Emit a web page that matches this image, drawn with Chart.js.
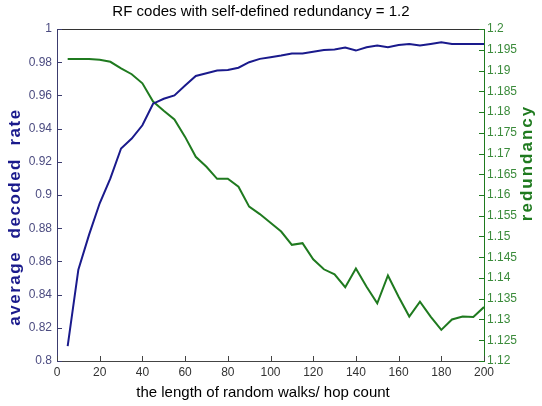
<!DOCTYPE html>
<html>
<head>
<meta charset="utf-8">
<script src="https://cdn.jsdelivr.net/npm/chart.js@4/dist/chart.umd.min.js"></script>
<style>
  html, body { margin: 0; padding: 0; background: #fff; }
  #wrap { width: 542px; height: 406px; }
</style>
</head>
<body>
<div id="wrap"><canvas id="rfChart" width="542" height="406"></canvas></div>
<script>
// hop count (x), every 5 steps
const walkLengths = [5, 10, 15, 20, 25, 30, 35, 40, 45, 50, 55, 60, 65, 70, 75, 80, 85, 90, 95, 100,
    105, 110, 115, 120, 125, 130, 135, 140, 145, 150, 155, 160, 165, 170, 175, 180, 185, 190, 195, 200];

// left axis - average decoded rate
const decodedRate = [0.809, 0.855, 0.876, 0.895, 0.910, 0.928, 0.934, 0.942, 0.955, 0.958,
    0.960, 0.966, 0.9717, 0.9733, 0.975, 0.9753, 0.9767, 0.980, 0.982, 0.983,
    0.984, 0.9853, 0.9853, 0.9863, 0.9873, 0.9877, 0.9888, 0.987, 0.989, 0.990,
    0.989, 0.9904, 0.991, 0.990, 0.991, 0.992, 0.991, 0.991, 0.991, 0.991];

// right axis - redundancy
const redundancy = [1.1928, 1.1928, 1.1928, 1.1926, 1.1921, 1.1905, 1.1891, 1.1869, 1.1825, 1.1803,
    1.1782, 1.1740, 1.1692, 1.1668, 1.1639, 1.1639, 1.1620, 1.1572, 1.1554, 1.1533,
    1.1512, 1.1480, 1.1484, 1.1445, 1.1421, 1.1409, 1.1378, 1.1423, 1.1379, 1.1339,
    1.1406, 1.1355, 1.1307, 1.1343, 1.1307, 1.1275, 1.1300, 1.1307, 1.1306, 1.1330];

const chartTitle = 'RF codes with self-defined redundancy = 1.2';
const xTitle = 'the length of random walks/ hop count';
const yLeftTitle = 'average  decoded  rate';
const yRightTitle = 'redundancy';

const BLUE = '#1a1a8c';
const GREEN = '#1f7a1f';

// matlab style: inward tick marks, top border line, titles
const matlabFrame = {
    id: 'matlabFrame',
    afterDraw(chart) {
        const ctx = chart.ctx;
        const area = chart.chartArea;
        const sx = chart.scales.x, sy = chart.scales.y, sy2 = chart.scales.y2;
        ctx.save();
        ctx.lineWidth = 1;

        // top line
        ctx.strokeStyle = '#333';
        ctx.beginPath();
        ctx.moveTo(area.left, area.top + 0.5);
        ctx.lineTo(area.right, area.top + 0.5);
        ctx.stroke();

        ctx.strokeStyle = '#444';
        sx.ticks.forEach(t => {
            const px = Math.round(sx.getPixelForValue(t.value)) + 0.5;
            ctx.beginPath();
            ctx.moveTo(px, area.bottom);
            ctx.lineTo(px, area.bottom - 5);
            ctx.stroke();
        });

        ctx.strokeStyle = '#3c3c6e';
        sy.ticks.forEach(t => {
            const py = Math.round(sy.getPixelForValue(t.value)) + 0.5;
            ctx.beginPath();
            ctx.moveTo(area.left, py);
            ctx.lineTo(area.left + 5, py);
            ctx.stroke();
        });

        ctx.strokeStyle = GREEN;
        sy2.ticks.forEach(t => {
            const py = Math.round(sy2.getPixelForValue(t.value)) + 0.5;
            ctx.beginPath();
            ctx.moveTo(area.right, py);
            ctx.lineTo(area.right - 5, py);
            ctx.stroke();
        });

        ctx.textAlign = 'center';
        ctx.textBaseline = 'middle';

        // chart title
        ctx.fillStyle = '#000';
        ctx.font = '15px "Liberation Sans", Arial, sans-serif';
        ctx.fillText(chartTitle, 261, 12);

        // axis titles
        ctx.font = '15px "Liberation Sans", Arial, sans-serif';
        ctx.fillText(xTitle, 263, 393);

        ctx.save();
        ctx.translate(15, 217);
        ctx.rotate(-Math.PI / 2);
        ctx.fillStyle = BLUE;
        ctx.font = 'bold 17px "Liberation Sans", Arial, sans-serif';
        ctx.letterSpacing = '1.5px';
        ctx.fillText(yLeftTitle, 0, 0);
        ctx.restore();

        ctx.save();
        ctx.translate(527, 163);
        ctx.rotate(-Math.PI / 2);
        ctx.fillStyle = GREEN;
        ctx.font = 'bold 17px "Liberation Sans", Arial, sans-serif';
        ctx.letterSpacing = '2px';
        ctx.fillText(yRightTitle, 0, 0);
        ctx.restore();

        ctx.restore();
    }
};

const tickFont = { family: '"Liberation Sans", Arial, sans-serif', size: 12 };

new Chart(document.getElementById('rfChart'), {
    type: 'line',
    data: {
        datasets: [{
            label: 'average decoded rate',
            data: walkLengths.map((x, i) => ({ x: x, y: decodedRate[i] })),
            borderColor: BLUE,
            borderWidth: 2,
            pointRadius: 0,
            tension: 0,
            yAxisID: 'y'
        }, {
            label: 'redundancy',
            data: walkLengths.map((x, i) => ({ x: x, y: redundancy[i] })),
            borderColor: GREEN,
            borderWidth: 2,
            pointRadius: 0,
            tension: 0,
            yAxisID: 'y2'
        }]
    },
    options: {
        responsive: false,
        animation: false,
        layout: { padding: { top: 29, left: 0, right: 0, bottom: 0 } },
        plugins: {
            legend: { display: false },
            tooltip: { enabled: false },
            title: { display: false }
        },
        scales: {
            x: {
                type: 'linear',
                min: 0,
                max: 200,
                ticks: { stepSize: 20, color: '#333', font: tickFont, padding: 4, maxRotation: 0 },
                grid: { display: false, drawTicks: false },
                border: { display: true, color: '#444', width: 1 },
                afterFit: s => { s.height = 45; }
            },
            y: {
                position: 'left',
                min: 0.8,
                max: 1,
                ticks: { stepSize: 0.02, color: '#4b4b80', font: tickFont, padding: 5,
                    callback: v => String(+v.toFixed(3)) },
                grid: { display: false, drawTicks: false },
                border: { display: true, color: '#3c3c6e', width: 1 },
                afterFit: s => { s.width = 57; }
            },
            y2: {
                position: 'right',
                min: 1.12,
                max: 1.2,
                ticks: { stepSize: 0.005, color: '#3b8b3b', font: tickFont, padding: 3,
                    callback: v => String(+v.toFixed(4)) },
                grid: { display: false, drawTicks: false },
                border: { display: true, color: GREEN, width: 1 },
                afterFit: s => { s.width = 58; }
            }
        }
    },
    plugins: [matlabFrame]
});
</script>
</body>
</html>
